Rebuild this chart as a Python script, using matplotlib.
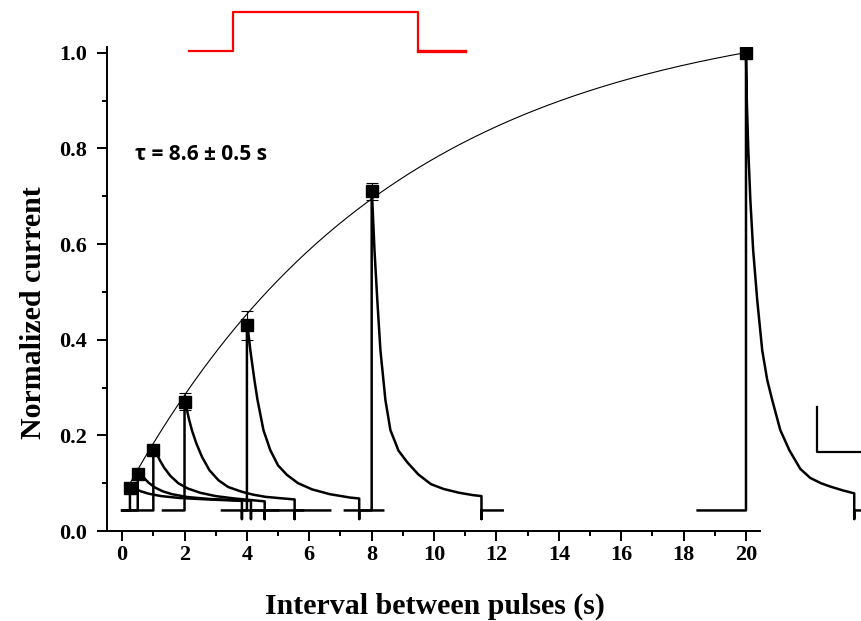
import matplotlib
matplotlib.use('Agg')
import matplotlib.pyplot as plt
import numpy as np
from matplotlib.ticker import MultipleLocator

plt.rcParams['font.family'] = 'Liberation Serif'
plt.rcParams['font.weight'] = 'bold'

# recovery data (interval in s, normalized current)
intervals = [0.25, 0.5, 1, 2, 4, 8, 20]
norm_current = [0.09, 0.12, 0.17, 0.27, 0.43, 0.71, 1.0]
norm_err = [0.005, 0.008, 0.01, 0.018, 0.03, 0.018, 0.0]

# exponential fit
tau = 8.6
fit_y0 = 0.07
fit_amp = 1.031

# raw current traces: baseline start, baseline stop, decay after each pulse
baseline = 0.043
undershoot = 0.025
trace_start = [0.0, 0.0, 0.0, 1.31, 3.2, 7.14, 18.45]
trace_stop = [4.5, 5.0, 5.8, 6.67, 8.37, 12.2, 23.8]
decay_dt = [
    [0, 0.15, 0.35, 0.6, 1.0, 1.6, 2.5, 3.59],
    [0, 0.1, 0.2, 0.35, 0.55, 0.8, 1.1, 1.6, 2.3, 3.63],
    [0, 0.1, 0.2, 0.35, 0.55, 0.8, 1.1, 1.5, 2.0, 2.6, 3.57],
    [0, 0.08, 0.15, 0.24, 0.38, 0.56, 0.8, 1.09, 1.4, 1.84, 2.2, 2.59, 3.0, 3.53],
    [0, 0.11, 0.24, 0.34, 0.53, 0.75, 1.0, 1.29, 1.64, 2.09, 2.66, 3.3, 3.6],
    [0, 0.09, 0.18, 0.28, 0.44, 0.6, 0.86, 1.15, 1.5, 1.9, 2.3, 2.8, 3.25, 3.52],
    [0, 0.026, 0.074, 0.14, 0.23, 0.36, 0.52, 0.68, 0.84, 1.1, 1.39, 1.74, 2.06,
     2.4, 2.7, 3.1, 3.47],
]
decay_val = [
    [0.095, 0.089, 0.083, 0.078, 0.073, 0.069, 0.066, 0.063],
    [0.13, 0.12, 0.111, 0.101, 0.091, 0.083, 0.077, 0.071, 0.067, 0.063],
    [0.18, 0.163, 0.149, 0.132, 0.115, 0.1, 0.089, 0.08, 0.073, 0.068, 0.062],
    [0.28, 0.252, 0.232, 0.21, 0.183, 0.155, 0.127, 0.106, 0.092, 0.082, 0.076,
     0.0715, 0.069, 0.066],
    [0.44, 0.378, 0.316, 0.274, 0.211, 0.169, 0.137, 0.117, 0.1, 0.087, 0.077,
     0.07, 0.068],
    [0.72, 0.587, 0.483, 0.378, 0.274, 0.211, 0.168, 0.143, 0.118, 0.098, 0.088,
     0.08, 0.075, 0.073],
    [1.0, 0.9, 0.797, 0.692, 0.587, 0.483, 0.378, 0.316, 0.274, 0.211, 0.169,
     0.13, 0.111, 0.1, 0.093, 0.085, 0.0788],
]

# voltage protocol (red) and scale bar
pulse_x = [2.13, 3.57, 3.57, 9.49, 9.49]
pulse_y = [1.004, 1.004, 1.084, 1.084, 1.004]
pulse_tail_x = [9.49, 10.99]
pulse_tail_y = [1.004, 1.004]
bar_x = [22.28, 22.28, 23.72]
bar_y = [0.259, 0.166, 0.166]

fig = plt.figure(figsize=(8.62, 6.21), dpi=100)
ax = fig.add_axes([0.1236, 0.1449, 0.7581, 0.7799])

for i in range(len(intervals)):
    t0 = intervals[i]
    xs = [trace_start[i], t0]
    ys = [baseline, baseline]
    for dt, v in zip(decay_dt[i], decay_val[i]):
        xs.append(t0 + dt)
        ys.append(v)
    t_end = t0 + decay_dt[i][-1]
    xs += [t_end, t_end, trace_stop[i]]
    ys += [undershoot, baseline, baseline]
    ax.plot(xs, ys, color='black', lw=1.8, solid_joinstyle='round', clip_on=False, zorder=2)

t_fit = np.linspace(0.2, 20, 300)
ax.plot(t_fit, fit_y0 + fit_amp * (1 - np.exp(-t_fit / tau)), color='black', lw=0.8, zorder=3)

ax.errorbar(intervals, norm_current, yerr=norm_err, fmt='s', color='black', ms=8,
            elinewidth=0.8, capsize=4, capthick=0.8, zorder=4)

ax.plot(pulse_x, pulse_y, color='red', lw=1.6, clip_on=False)
ax.plot(pulse_tail_x, pulse_tail_y, color='red', lw=2.4, clip_on=False)
ax.plot(bar_x, bar_y, color='black', lw=1.6, clip_on=False)

ax.text(0.42, 0.787, 'τ = 8.6 ± 0.5 s', fontsize=15, fontweight='bold',
        family=['Open Sans', 'DejaVu Sans'], va='center', ha='left')

ax.set_xlim(-0.5, 20.45)
ax.set_ylim(0, 1.0125)
ax.xaxis.set_major_locator(MultipleLocator(2))
ax.xaxis.set_minor_locator(MultipleLocator(1))
ax.yaxis.set_major_locator(MultipleLocator(0.2))
ax.yaxis.set_minor_locator(MultipleLocator(0.1))
ax.yaxis.set_major_formatter(plt.FormatStrFormatter('%.1f'))
ax.spines['top'].set_visible(False)
ax.spines['right'].set_visible(False)
ax.spines['left'].set_linewidth(1.4)
ax.spines['bottom'].set_linewidth(1.4)
ax.tick_params(which='major', length=7, width=1.4, labelsize=16)
ax.tick_params(axis='x', which='major', pad=3)
ax.tick_params(axis='y', which='major', pad=7)
ax.tick_params(which='minor', length=3.5, width=1.4)

ax.set_xlabel('Interval between pulses (s)', fontsize=21.5, fontweight='bold')
ax.set_ylabel('Normalized current', fontsize=21.5, fontweight='bold')
ax.xaxis.set_label_coords(0.503, -0.127)
ax.yaxis.set_label_coords(-0.091, 0.45)

fig.savefig('out.png', dpi=100)
